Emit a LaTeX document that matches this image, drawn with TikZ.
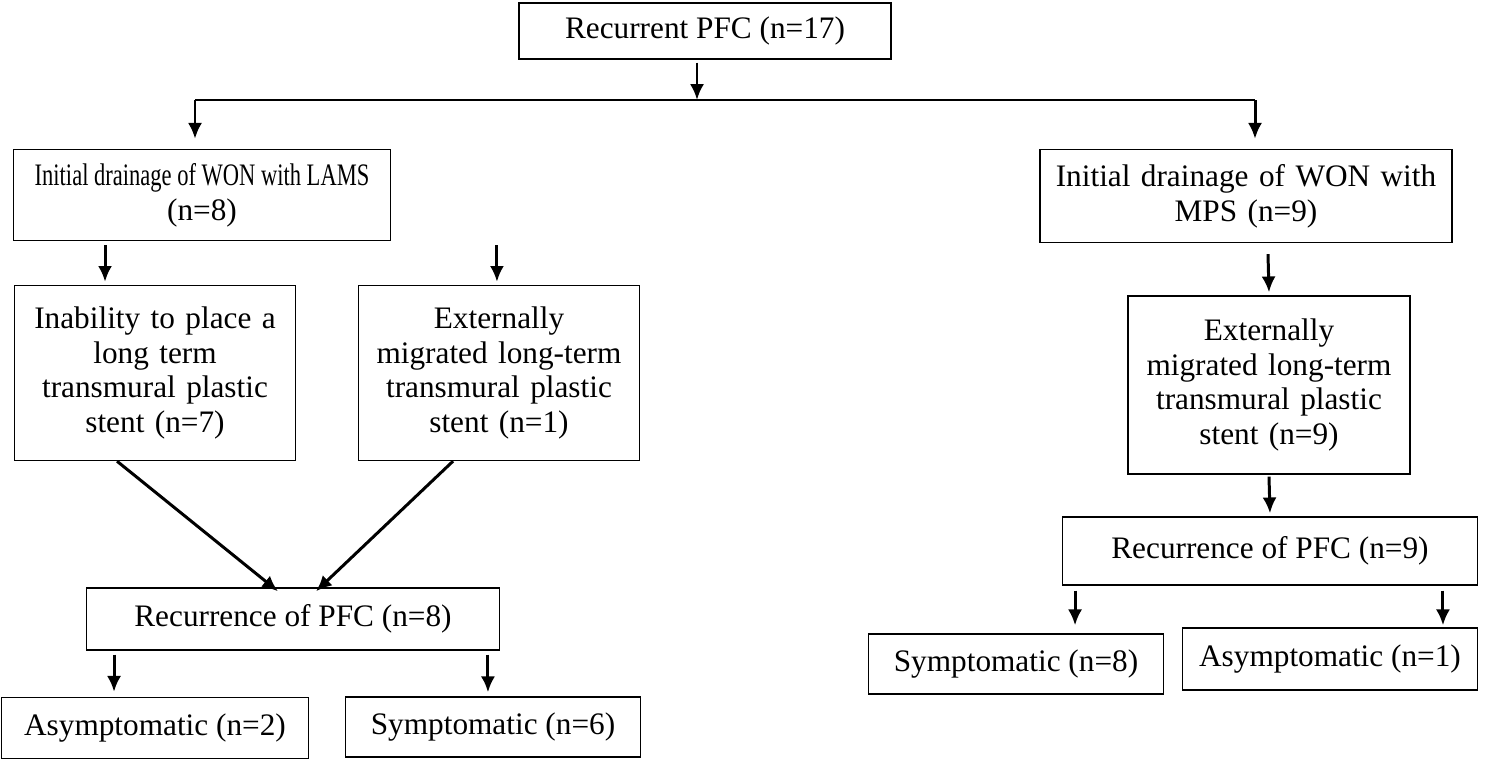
\documentclass[tikz,border=0pt]{standalone}
\usepackage{fontspec}
\setmainfont{Liberation Serif}
\usetikzlibrary{arrows.meta,positioning}
\begin{document}
\begin{tikzpicture}[x=0.02cm,y=-0.02cm,
	box/.style={draw, line width=0.8pt, inner sep=0pt, align=center, font={\fontsize{17.8}{19.8}\selectfont}},
	arr/.style={line width=1.7pt, -{Latex[length=9pt,width=8pt]}}]
	\useasboundingbox (0,0) rectangle (1502,761);
	% boxes
	\node[box, minimum width=7.44cm, minimum height=1.12cm] (top) at (705,31) {Recurrent PFC (n=17)};
	\node[box, minimum width=7.54cm, minimum height=1.82cm] (lams) at (202,195) {\scalebox{0.72}[1]{Initial drainage of WON with LAMS}\\(n=8)};
	\node[box, minimum width=8.24cm, minimum height=1.86cm, text width=8cm] (mps) at (1246,196) {Initial drainage of WON with\\MPS (n=9)};
	\node[box, minimum width=5.62cm, minimum height=3.5cm, text width=5.5cm] (inab) at (155,373) {Inability to place a\\long term\\transmural plastic\\stent (n=7)};
	\node[box, minimum width=5.62cm, minimum height=3.5cm, text width=5.5cm] (extl) at (499,373) {Externally\\migrated long-term\\transmural plastic\\stent (n=1)};
	\node[box, minimum width=5.64cm, minimum height=3.56cm, text width=5.5cm] (extr) at (1269,385) {Externally\\migrated long-term\\transmural plastic\\stent (n=9)};
	\node[box, minimum width=8.26cm, minimum height=1.24cm] (recl) at (293,619) {Recurrence of PFC (n=8)};
	\node[box, minimum width=8.3cm, minimum height=1.36cm] (recr) at (1270,551) {Recurrence of PFC (n=9)};
	\node[box, minimum width=6.14cm, minimum height=1.22cm] (asyl) at (155,728) {Asymptomatic (n=2)};
	\node[box, minimum width=5.9cm, minimum height=1.2cm] (syml) at (493,727) {Symptomatic (n=6)};
	\node[box, minimum width=5.9cm, minimum height=1.2cm] (symr) at (1016,664) {Symptomatic (n=8)};
	\node[box, minimum width=5.9cm, minimum height=1.24cm] (asyr) at (1330,659) {Asymptomatic (n=1)};
	% split line
	\coordinate (jn) at (697,100);
	\coordinate (jl) at (195,100);
	\coordinate (jr) at (1255,100);
	\draw[arr] (top.south -| jn) ++(0,3) -- (jn);
	\draw[line width=1.7pt] (jl) -- (jr);
	\draw[arr] (jl) -- ([yshift=0.2cm]jl |- lams.north);
	\draw[arr] (jr) -- ([yshift=0.2cm]jr |- mps.north);
	% left branch
	\draw[arr] ([xshift=-1.94cm,yshift=-0.08cm]lams.south) -- ([xshift=-1.94cm,yshift=0.06cm]lams.south |- inab.north);
	\draw[arr] ([xshift=5.9cm,yshift=-0.08cm]lams.south) -- ([xshift=5.9cm,yshift=0.06cm]lams.south |- extl.north);
	\draw[arr] ([xshift=-0.76cm]inab.south) -- ([xshift=-0.3cm,yshift=-0.08cm]recl.north);
	\draw[arr] ([xshift=-0.92cm]extl.south) -- ([xshift=0.46cm,yshift=-0.08cm]recl.north);
	\draw[arr] ([xshift=-3.58cm,yshift=-0.08cm]recl.south) -- ([xshift=-3.58cm,yshift=0.1cm]recl.south |- asyl.north);
	\draw[arr] ([xshift=3.9cm,yshift=-0.08cm]recl.south) -- ([xshift=3.9cm,yshift=0.08cm]recl.south |- syml.north);
	% right branch
	\draw[arr] ([xshift=0.44cm,yshift=-0.22cm]mps.south) -- ([yshift=0.06cm]extr.north);
	\draw[arr] ([yshift=-0.04cm]extr.south) -- ([yshift=0.06cm]recr.north);
	\draw[arr] ([xshift=-3.9cm,yshift=-0.1cm]recr.south) -- ([xshift=-3.9cm,yshift=0.04cm]recr.south |- asyr.north);
	\draw[arr] ([xshift=3.46cm,yshift=-0.1cm]recr.south) -- ([xshift=3.46cm,yshift=0.04cm]recr.south |- asyr.north);
\end{tikzpicture}
\end{document}
